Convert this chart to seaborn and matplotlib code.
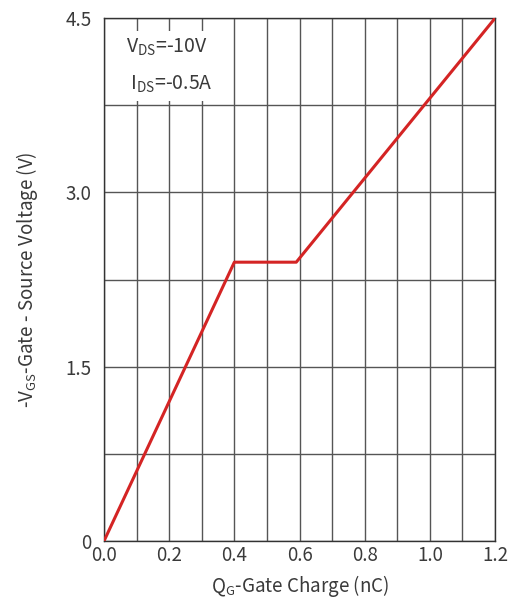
import numpy as np
import pandas as pd
import matplotlib
matplotlib.use("Agg")
import matplotlib.pyplot as plt
import seaborn as sns

# curve
gate_charge = [0.0, 0.40, 0.59, 1.2]   # nC
gate_voltage = [0.0, 2.40, 2.40, 4.5]  # V

x_ticks = [0.0, 0.2, 0.4, 0.6, 0.8, 1.0, 1.2]
y_ticks = [0, 1.5, 3.0, 4.5]
y_tick_labels = ["0", "1.5", "3.0", "4.5"]

sns.set_theme(style="white")
plt.rcParams['font.family'] = ['Noto Sans CJK SC', 'DejaVu Sans']
plt.rcParams['font.weight'] = 'light'
plt.rcParams['mathtext.fontset'] = 'custom'
plt.rcParams['mathtext.rm'] = 'Noto Sans CJK SC:light'
plt.rcParams['mathtext.it'] = 'Noto Sans CJK SC:light'
plt.rcParams['mathtext.bf'] = 'Noto Sans CJK SC:light'

text_color = '#3a3a3a'
df = pd.DataFrame({'Qg': gate_charge, 'Vgs': gate_voltage})

fig = plt.figure(figsize=(5.2, 6.03), dpi=100)
ax = fig.add_axes([0.2, 0.1028, 0.752, 0.867])

sns.lineplot(data=df, x='Qg', y='Vgs', ax=ax, color='#d42424', linewidth=2.2,
             sort=False, zorder=5)

ax.set_xlim(0, 1.2)
ax.set_ylim(0, 4.5)
ax.set_xticks(np.arange(0, 1.21, 0.1), minor=True)
ax.set_yticks(np.arange(0, 4.51, 0.75), minor=True)
ax.set_xticks(x_ticks)
ax.set_xticklabels([f"{v:.1f}" for v in x_ticks])
ax.set_yticks(y_ticks)
ax.set_yticklabels(y_tick_labels)
ax.grid(which='both', color='#555555', linewidth=1.0)
ax.tick_params(which='both', length=0, labelsize=13.5, labelcolor=text_color)
ax.tick_params(axis='x', pad=3)
ax.tick_params(axis='y', pad=9)

for s in ax.spines.values():
    s.set_color('#333333')
    s.set_linewidth(1.0)

ax.set_xlabel(r'Q$_{\mathregular{G}}$-Gate Charge (nC)', fontsize=13.5, color=text_color, labelpad=5)
ax.set_ylabel(r'-V$_{\mathregular{GS}}$-Gate - Source Voltage (V)', fontsize=13.5, color=text_color, labelpad=18)

ax.text(0.055, 0.965, 'V$_{\\mathregular{DS}}$=-10V\n I$_{\\mathregular{DS}}$=-0.5A',
        transform=ax.transAxes, fontsize=14, color=text_color, va='top', ha='left',
        linespacing=2.0, zorder=6,
        bbox=dict(facecolor='white', edgecolor='none', pad=4))

fig.savefig('out.png', dpi=100)
